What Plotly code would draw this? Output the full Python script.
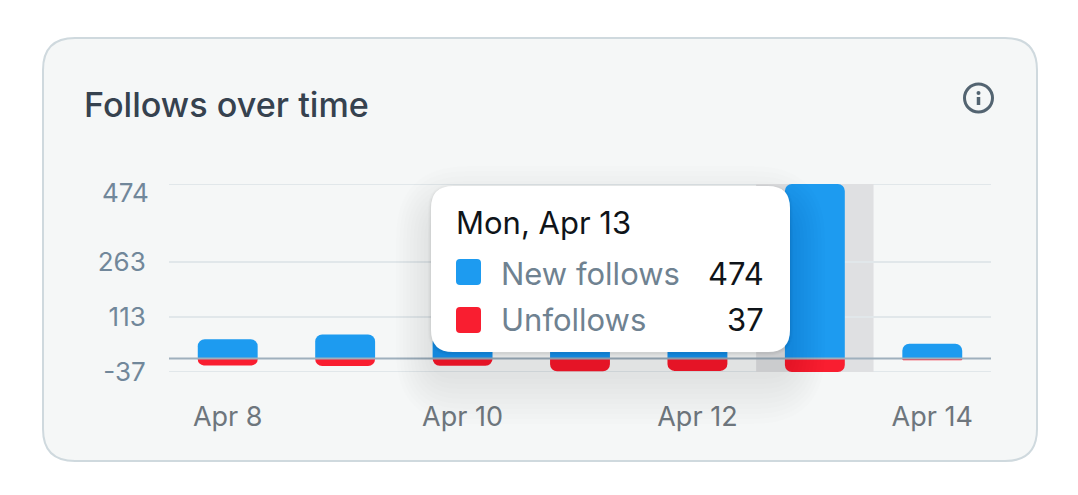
import plotly.graph_objects as go

days = ["Apr 8", "Apr 9", "Apr 10", "Apr 11", "Apr 12", "Apr 13", "Apr 14"]
new_follows = [52, 65, 60, 75, 70, 474, 40]
unfollows = [-19, -21, -20, -35, -34, -37, -5]
y_ticks = [-37, 113, 263, 474]
y_labels = ["-37", "113", "263", ""]
x_labels = ["Apr 8", "Apr 10", "Apr 12", "Apr 14"]
active_day = "Apr 13"

W, H = 1078, 495
L, R, T, B = 169, 991, 184, 372
FONT = "Inter"
BLUE, RED = "#1d9bf0", "#f91e30"
GRID = "#e1e7ea"


def px(x):
    return (x - L) / (R - L)


def py(y):
    return (B - y) / (B - T)


def rrect(x0, y0, x1, y1, r, **kw):
    a, b, c, d = px(x0), py(y0), px(x1), py(y1)
    rx, ry = r / (R - L), r / (B - T)
    path = (
        f"M {a + rx} {b} L {c - rx} {b} Q {c} {b} {c} {b - ry} "
        f"L {c} {d + ry} Q {c} {d} {c - rx} {d} L {a + rx} {d} "
        f"Q {a} {d} {a} {d + ry} L {a} {b - ry} Q {a} {b} {a + rx} {b} Z"
    )
    return dict(type="path", xref="paper", yref="paper", path=path, **kw)


def text(x, y, s, size, color, anchor="left", weight=400):
    shift = {"left": -3, "right": 3}[anchor]
    return dict(
        xref="paper", yref="paper", x=px(x + shift), y=py(y), text=s, showarrow=False,
        xanchor=anchor, yanchor="middle",
        font=dict(family=FONT, size=size, color=color, weight=weight),
    )


idx = days.index(active_day)
shapes = [
    rrect(43, 38, 1037, 461, 32, layer="below", fillcolor="#f5f7f7",
          line=dict(color="#cfd9de", width=2)),
    dict(type="line", xref="paper", yref="y", x0=0, x1=1, y0=y_ticks[0], y1=y_ticks[0],
         layer="below", line=dict(color=GRID, width=2)),
    dict(type="line", xref="paper", yref="y", x0=0, x1=1, y0=y_ticks[-1], y1=y_ticks[-1],
         layer="below", line=dict(color=GRID, width=2)),
    dict(type="rect", xref="x", yref="y", x0=idx - 0.5, x1=idx + 0.5,
         y0=y_ticks[0], y1=y_ticks[-1], layer="below",
         fillcolor="#dfe0e2", line=dict(width=0)),
    dict(type="line", xref="paper", yref="y", x0=0, x1=1, y0=0, y1=0,
         layer="above", line=dict(color="#9fb0bd", width=2)),
]
# soft tooltip shadow
for s in range(50, 0, -5):
    shapes.append(rrect(431 - s * 0.7, 186 + 30 - s, 790 + s * 0.7, 352 + 22 + s, 22 + s,
                        layer="above", fillcolor="rgba(0,0,0,0.008)",
                        line=dict(width=0)))
for s, a in [(3, 0.015), (2, 0.02), (1, 0.03)]:
    shapes.append(rrect(431 - s, 186 - s + 1, 790 + s, 352 + s + 1, 22 + s,
                        layer="above", fillcolor=f"rgba(0,0,0,{a})",
                        line=dict(width=0)))
shapes += [
    rrect(431, 186, 790, 352, 22, layer="above", fillcolor="#ffffff",
          line=dict(width=0)),
    rrect(456, 259, 481, 285, 4, layer="above", fillcolor=BLUE, line=dict(width=0)),
    rrect(456, 307, 481, 333, 4, layer="above", fillcolor=RED, line=dict(width=0)),
    # info icon
    dict(type="circle", xref="paper", yref="paper", layer="above",
         x0=px(964.5), x1=px(992.5), y0=py(112), y1=py(84),
         line=dict(color="#536471", width=3), fillcolor="rgba(0,0,0,0)"),
    dict(type="circle", xref="paper", yref="paper", layer="above",
         x0=px(976.5), x1=px(980.5), y0=py(95), y1=py(91),
         line=dict(width=0), fillcolor="#536471"),
    dict(type="line", xref="paper", yref="paper", layer="above",
         x0=px(978.5), x1=px(978.5), y0=py(105), y1=py(97),
         line=dict(color="#536471", width=3.5)),
]

annotations = [
    text(85, 104, "Follows over time", 34.2, "#36424f", weight=500),
    text(148, 192, str(y_ticks[-1]), 26, "#71879a", anchor="right"),
    text(457, 222, "Mon, Apr 13", 31, "#0f1419"),
    text(502, 273, "New follows", 31, "#6f8291"),
    text(502, 319, "Unfollows", 31, "#6f8291"),
    text(763, 273, str(new_follows[idx]), 31, "#0f1419", anchor="right"),
    text(763, 319, str(-unfollows[idx]), 31, "#0f1419", anchor="right"),
]

fig = go.Figure()
fig.add_bar(x=days, y=new_follows, name="New follows", marker_color=BLUE, marker_line_width=0)
fig.add_bar(x=days, y=unfollows, name="Unfollows", marker_color=RED, marker_line_width=0)
fig.update_layout(
    width=W, height=H, autosize=False, showlegend=False,
    margin=dict(l=L, r=W - R, t=T, b=H - B, pad=0),
    paper_bgcolor="#ffffff", plot_bgcolor="rgba(0,0,0,0)",
    barmode="relative", bargap=0.49, barcornerradius=7,
    shapes=shapes, annotations=annotations,
    font=dict(family=FONT),
    xaxis=dict(
        type="category", categoryorder="array", categoryarray=days,
        range=[-0.5, 6.5], tickmode="array", tickvals=x_labels, ticktext=x_labels,
        showgrid=False, zeroline=False, showline=False,
        ticks="outside", ticklen=21, tickcolor="rgba(0,0,0,0)",
        tickfont=dict(family=FONT, size=27, color="#6e767d"),
    ),
    yaxis=dict(
        range=[y_ticks[0], y_ticks[-1]], tickmode="array", tickvals=y_ticks, ticktext=y_labels,
        showgrid=True, gridcolor=GRID, gridwidth=2, zeroline=False, showline=False,
        ticks="outside", ticklen=17, tickcolor="rgba(0,0,0,0)",
        tickfont=dict(family=FONT, size=26, color="#71879a"),
    ),
)
fig.write_html("out.html", config=dict(displayModeBar=False),
               post_script="document.body.style.margin='0';")
